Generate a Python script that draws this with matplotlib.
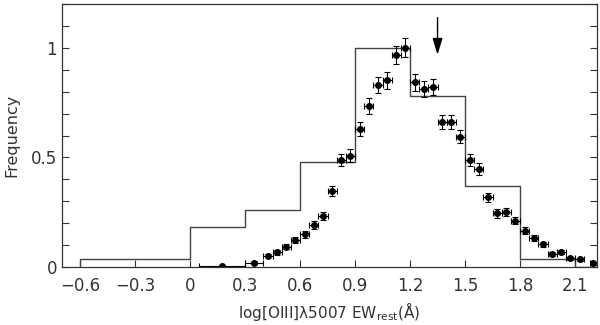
import matplotlib
matplotlib.use('Agg')
import matplotlib.pyplot as plt
from matplotlib.ticker import MultipleLocator

# histogram (bin edges and heights)
hist_edges = [-0.6, 0.0, 0.3, 0.6, 0.9, 1.2, 1.5, 1.8, 2.1, 2.22]
hist_vals = [0.035, 0.184, 0.259, 0.48, 1.0, 0.779, 0.37, 0.035, 0.0]

# data points with error bars
pt_x = [0.175, 0.35, 0.425, 0.475, 0.525, 0.575, 0.625, 0.675, 0.725, 0.775,
        0.825, 0.875, 0.925, 0.975, 1.025, 1.075, 1.125, 1.175, 1.225, 1.275,
        1.325, 1.375, 1.425, 1.475, 1.525, 1.575, 1.625, 1.675, 1.725, 1.775,
        1.825, 1.875, 1.925, 1.975, 2.025, 2.075, 2.125, 2.2]
pt_y = [0.006, 0.021, 0.053, 0.067, 0.093, 0.123, 0.149, 0.192, 0.233, 0.348,
        0.489, 0.508, 0.630, 0.735, 0.830, 0.851, 0.968, 1.0, 0.843, 0.811,
        0.820, 0.663, 0.663, 0.595, 0.489, 0.446, 0.318, 0.245, 0.250, 0.212,
        0.166, 0.134, 0.104, 0.059, 0.070, 0.040, 0.035, 0.017]
pt_xerr = [0.125, 0.05] + [0.025] * 35 + [0.02]
pt_yerr = [0.004, 0.006, 0.009, 0.010, 0.012, 0.014, 0.015, 0.017, 0.018, 0.024,
           0.028, 0.029, 0.032, 0.035, 0.037, 0.038, 0.041, 0.043, 0.038, 0.037,
           0.037, 0.032, 0.032, 0.030, 0.028, 0.027, 0.022, 0.019, 0.019, 0.017,
           0.015, 0.013, 0.012, 0.009, 0.010, 0.007, 0.007, 0.005]

arrow_x = 1.35
arrow_top = 1.15
arrow_tip = 0.955

xticks = [-0.6, -0.3, 0, 0.3, 0.6, 0.9, 1.2, 1.5, 1.8, 2.1]
xlabels = ['\u22120.6', '\u22120.3', '0', '0.3', '0.6', '0.9', '1.2', '1.5', '1.8', '2.1']
yticks = [0, 0.5, 1]
ylabels = ['0', '0.5', '1']

txtc = '#333333'
plt.rcParams['font.family'] = 'DejaVu Sans'
plt.rcParams['mathtext.fontset'] = 'dejavusans'
plt.rcParams['mathtext.default'] = 'regular'

fig = plt.figure(figsize=(6, 3.25), dpi=100)
ax = fig.add_axes([0.103, 0.178, 0.892, 0.81])

# step histogram
sx = [hist_edges[0]]
sy = [0]
for i in range(len(hist_vals)):
    sx += [hist_edges[i], hist_edges[i + 1]]
    sy += [hist_vals[i], hist_vals[i]]
ax.plot(sx, sy, color='#444444', lw=1.0)

ax.errorbar(pt_x, pt_y, xerr=pt_xerr, yerr=pt_yerr, fmt='o', color='black',
            ms=4, elinewidth=0.8, capsize=2, capthick=0.8)

ax.annotate('', xy=(arrow_x, arrow_tip), xytext=(arrow_x, arrow_top),
            arrowprops=dict(arrowstyle='-|>,head_length=1.0,head_width=0.3',
                            color='black', lw=1.0))

ax.set_xlim(-0.7, 2.22)
ax.set_ylim(0, 1.2)
ax.set_xticks(xticks)
ax.set_xticklabels(xlabels)
ax.set_yticks(yticks)
ax.set_yticklabels(ylabels)
ax.yaxis.set_minor_locator(MultipleLocator(0.1))
ax.tick_params(which='both', direction='in', right=True, top=False,
               labelsize=12, labelcolor=txtc, color='#333333')
ax.tick_params(which='major', length=5, width=0.8)
ax.tick_params(which='minor', length=5, width=0.8)
ax.tick_params(axis='x', pad=7)
for s in ax.spines.values():
    s.set_color('#333333')
    s.set_linewidth(0.9)

ax.set_ylabel('Frequency', fontsize=11.5, color=txtc, labelpad=8)
ax.set_xlabel('log[OIII]\u03bb5007 EW$_{rest}$(\u00c5)', fontsize=11,
              color=txtc, labelpad=4)

fig.savefig('out.png', dpi=100)
